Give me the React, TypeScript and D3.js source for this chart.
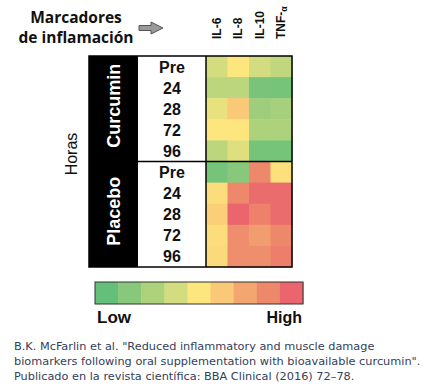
import * as d3 from "d3";

const markers = ["IL-6", "IL-8", "IL-10", "TNF-α"];
const hours = ["Pre", "24", "28", "72", "96"];
const groups = ["Curcumin", "Placebo"];

// level on the 0 (low) .. 8 (high) legend scale
const curcuminLevels = [
  [3.0, 4.0, 3.0, 2.5],
  [2.4, 2.4, 0.6, 0.5],
  [3.5, 5.0, 1.6, 1.8],
  [4.0, 4.0, 2.0, 2.0],
  [2.4, 3.3, 0.5, 0.5],
];
const placeboLevels = [
  [0.5, 1.0, 7.0, 4.2],
  [4.3, 7.0, 7.8, 7.8],
  [4.8, 8.0, 7.2, 7.8],
  [4.3, 6.8, 6.3, 7.0],
  [4.4, 6.8, 6.8, 7.3],
];
const legendColors = [
  "#63bf7a", "#88c87a", "#add27b", "#d3dc7f", "#fde67d",
  "#f9c977", "#f3a670", "#ee886b", "#ea656e",
];
const citation = [
  "B.K. McFarlin et al. \"Reduced inflammatory and muscle damage",
  "biomarkers following oral supplementation with bioavailable curcumin\".",
  "Publicado en la revista científica: BBA Clinical (2016) 72–78.",
];

const W = 432;
const H = 391;
const boxLeft = 89;
const labelLeft = 138;
const heatLeft = 206;
const heatRight = 292;
const top = 56;
const bottom = 267;

export default function App() {
  const rows = groups.flatMap((g) => hours.map((h) => `${g}-${h}`));
  const levels = [...curcuminLevels, ...placeboLevels];

  const x = d3.scaleBand().domain(markers).range([heatLeft, heatRight]);
  const y = d3.scaleBand().domain(rows).range([top, bottom]);
  const color = d3
    .scaleLinear<string>()
    .domain(d3.range(legendColors.length))
    .range(legendColors)
    .interpolate(d3.interpolateRgb)
    .clamp(true);

  const legendX = d3
    .scaleBand()
    .domain(d3.range(legendColors.length).map(String))
    .range([95, 303]);

  const groupH = y.bandwidth() * hours.length;
  const divider = top + groupH;

  return (
    <svg
      width={W}
      height={H}
      style={{ position: "absolute", left: 0, top: 0, background: "#fff" }}
      fontFamily="'Liberation Sans', Arial, sans-serif"
    >
      {/* header */}
      <g fontFamily="'Open Sans', sans-serif" fontWeight={700} fontSize={15.5} fill="#111" textAnchor="middle">
        <text x={76} y={23}>Marcadores</text>
        <text x={76} y={43}>de inflamación</text>
      </g>
      <path
        d="M139,25.5 L151,25.5 L151,22 L163,28 L151,34 L151,30.5 L139,30.5 Z"
        fill="#9a9a9a"
        stroke="#555"
        strokeWidth={1}
      />
      {markers.map((m) => {
        const cx = (x(m) ?? 0) + x.bandwidth() / 2 + 4;
        return (
          <text
            key={m}
            transform={`translate(${cx},39) rotate(-90)`}
            fontWeight={700}
            fontSize={12}
            fill="#111"
          >
            {m === "TNF-α" ? (
              <>
                TNF-<tspan fontSize={9} dy={2}>α</tspan>
              </>
            ) : (
              m
            )}
          </text>
        );
      })}

      {/* heatmap cells */}
      {rows.map((r, i) =>
        markers.map((m, j) => (
          <rect
            key={`${r}-${m}`}
            x={x(m)}
            y={y(r)}
            width={x.bandwidth() + 0.5}
            height={y.bandwidth() + 0.5}
            fill={color(levels[i][j])}
          />
        ))
      )}

      {/* group column */}
      <rect x={boxLeft} y={top} width={labelLeft - boxLeft} height={bottom - top} fill="#000" />
      {groups.map((g, i) => (
        <text
          key={g}
          transform={`translate(${(boxLeft + labelLeft) / 2 + 6},${top + groupH * i + groupH / 2 - 3}) rotate(-90)`}
          textAnchor="middle"
          fill="#fff"
          fontWeight={700}
          fontSize={18}
        >
          {g}
        </text>
      ))}

      {/* hour labels */}
      {rows.map((r, i) => (
        <text
          key={r}
          x={(labelLeft + heatLeft) / 2}
          y={(y(r) ?? 0) + y.bandwidth() / 2 + 6}
          textAnchor="middle"
          fontWeight={700}
          fontSize={16}
          fill="#111"
        >
          {hours[i % hours.length]}
        </text>
      ))}

      {/* grid lines */}
      <g stroke="#000" fill="none">
        <rect x={boxLeft} y={top} width={heatRight - boxLeft} height={bottom - top} strokeWidth={1.5} />
        <line x1={heatLeft} x2={heatLeft} y1={top} y2={bottom} strokeWidth={1.5} />
        <line x1={boxLeft} x2={heatRight} y1={divider} y2={divider} strokeWidth={1.5} />
      </g>

      <text
        transform="translate(77,154) rotate(-90)"
        textAnchor="middle"
        fontSize={16}
        fill="#111"
      >
        Horas
      </text>

      {/* legend */}
      {legendColors.map((c, i) => (
        <rect
          key={c}
          x={legendX(String(i))}
          y={282}
          width={legendX.bandwidth() + 0.5}
          height={22}
          fill={c}
        />
      ))}
      <rect x={95} y={282} width={208} height={22} fill="none" stroke="#333" strokeWidth={1} />
      <text x={97} y={323} fontWeight={700} fontSize={17} fill="#111">Low</text>
      <text x={302} y={323} textAnchor="end" fontWeight={700} fontSize={16} fill="#111">High</text>

      {/* citation */}
      <g fontFamily="'DejaVu Sans', Verdana, sans-serif" fontSize={11.3} fill="#34405a">
        {citation.map((line, i) => (
          <text key={i} x={14} y={350 + i * 15}>{line}</text>
        ))}
      </g>
    </svg>
  );
}
